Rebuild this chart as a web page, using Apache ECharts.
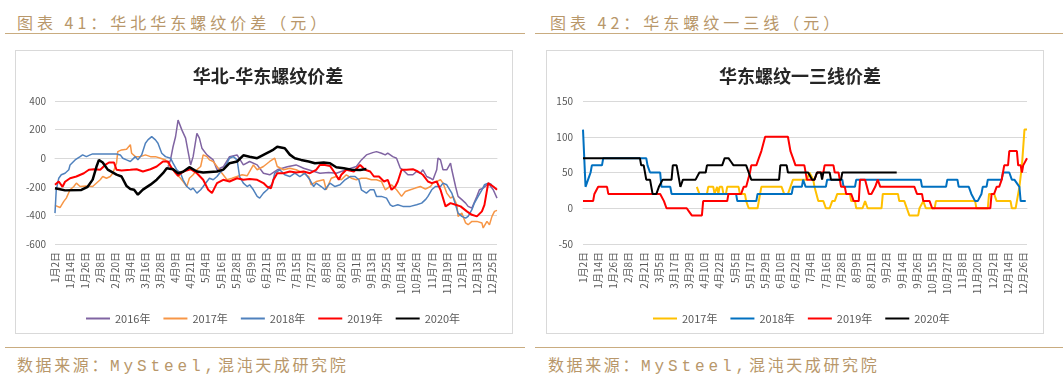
<!DOCTYPE html>
<html><head><meta charset="utf-8">
<script src="https://cdn.jsdelivr.net/npm/echarts@6/dist/echarts.min.js"></script>
<style>
html,body{margin:0;padding:0;background:#fff;}
#wrap{position:relative;width:1063px;height:379px;overflow:hidden;background:#fff;}
.txt{position:absolute;font-family:"Noto Sans CJK SC",sans-serif;font-size:16px;color:#b8976a;letter-spacing:4px;white-space:nowrap;line-height:20px;}
.foot{letter-spacing:2.6px;}
.lat{font-family:"Liberation Mono",monospace;letter-spacing:3.9px;}
.rule{position:absolute;height:0;border-top:1.5px solid #c9ac80;}
.box{position:absolute;border:1px solid #d9d9d9;box-sizing:border-box;}
.ch{position:absolute;top:0;height:379px;}
</style></head>
<body>
<div id="wrap">
  <div class="txt" style="left:17px;top:12px;">图表 41：华北华东螺纹价差（元）</div>
  <div class="txt" style="left:550px;top:12px;">图表 42：华东螺纹一三线（元）</div>
  <div class="rule" style="left:5px;width:520px;top:33px;"></div>
  <div class="rule" style="left:535px;width:528px;top:33px;"></div>
  <div class="box" style="left:15px;top:50px;width:498px;height:284px;"></div>
  <div class="box" style="left:546px;top:50px;width:498px;height:284px;"></div>
  <div class="rule" style="left:5px;width:520px;top:347px;"></div>
  <div class="rule" style="left:535px;width:528px;top:347px;"></div>
  <div class="txt foot" style="left:17px;top:354px;">数据来源：<span class="lat">MySteel,</span>混沌天成研究院</div>
  <div class="txt foot" style="left:548px;top:354px;">数据来源：<span class="lat">MySteel,</span>混沌天成研究院</div>
  <div id="c1" class="ch" style="left:0;width:531px;"></div>
  <div id="c2" class="ch" style="left:531px;width:532px;"></div>
</div>
<script>
// ---------- categories (trading-day dates) ----------
const MONTH_DAYS = [31,28,31,30,31,30,31,31,30,31,30,31];
function makeDays(skips, count) {
  const out = []; let m = 1, d = 2;
  while (out.length < count) {
    if (!skips.includes(m + '-' + d)) out.push(m + '月' + d + '日');
    d++; if (d > MONTH_DAYS[m - 1]) { d = 1; m++; }
  }
  return out;
}
const leftSkips  = ['2-3','5-1','10-1','10-2','10-3','10-4','10-5','10-6','10-7'];
const rightSkips = ['2-4','2-16','5-1','10-1','10-2','10-3','10-4','10-5','10-6','10-7'];
const leftCategories  = makeDays(leftSkips, 353);
const rightCategories = makeDays(rightSkips, 352);

// ---------- left chart: 华北-华东螺纹价差 ([day index, value]) ----------
const leftNames = ['2016年','2017年','2018年','2019年','2020年'];
const leftTicks = [-600, 400, 200];
const n2016 = [[90,-60],[92,-10],[94,80],[96,150],[98,267],[101,198],[104,140],[106,46],[108,-47],[110,11],[113,174],[115,140],[117,70],[121,23],[126,-12],[129,-81],[134,-60],[139,11],[145,23],[150,-47],[155,-23],[161,-47],[166,-105],[171,-116],[177,-81],[185,-60],[192,-47],[198,-70],[205,-90],[211,-105],[218,-100],[224,-105],[232,-81],[240,-58],[244,-12],[248,23],[253,39],[256,46],[260,35],[263,23],[265,35],[269,11],[272,0],[275,-70],[277,-81],[281,-116],[285,-116],[288,-93],[291,-105],[293,-81],[296,-128],[299,-140],[301,-151],[304,-81],[305,0],[307,-12],[309,-81],[312,-81],[315,-35],[316,-81],[319,-198],[321,-267],[324,-290],[327,-314],[329,-337],[332,-349],[336,-267],[338,-221],[341,-209],[344,-186],[346,-186],[349,-221],[352,-279]];
const n2017 = [[0,-330],[1,-326],[4,-345],[7,-302],[9,-279],[12,-221],[15,-198],[17,-174],[20,-198],[25,-195],[30,-198],[36,-151],[38,-128],[41,-140],[44,-128],[46,-105],[49,-35],[50,46],[53,58],[57,63],[60,95],[61,35],[64,11],[68,11],[72,23],[76,11],[80,11],[84,0],[88,-12],[92,-58],[96,-105],[100,-140],[102,-163],[105,-198],[107,-140],[110,-116],[113,-81],[116,-58],[118,23],[121,11],[123,-12],[126,-23],[129,-58],[133,-105],[137,-151],[141,-140],[145,-128],[149,-116],[153,-123],[158,-47],[161,-81],[166,-58],[171,-23],[175,0],[177,-58],[182,-81],[187,-70],[192,-81],[198,-105],[202,-128],[204,-186],[208,-163],[214,-151],[216,-221],[220,-140],[224,-128],[228,-151],[232,-116],[236,-140],[240,-151],[244,-140],[248,-140],[252,-151],[256,-151],[260,-163],[263,-221],[265,-209],[268,-186],[272,-221],[276,-267],[279,-233],[283,-221],[287,-209],[291,-198],[295,-216],[299,-198],[301,-174],[304,-163],[307,-151],[309,-174],[312,-244],[315,-279],[317,-267],[320,-326],[321,-407],[324,-384],[327,-453],[329,-465],[332,-442],[336,-442],[337,-430],[340,-453],[341,-488],[344,-442],[346,-465],[348,-407],[350,-372],[352,-365]];
const n2018 = [[0,-384],[1,-221],[3,-140],[5,-116],[8,-105],[11,-81],[12,-47],[16,-12],[20,11],[22,23],[25,11],[28,23],[30,30],[49,30],[52,23],[54,0],[57,-12],[60,-23],[64,11],[66,-12],[69,23],[72,105],[74,128],[77,151],[80,128],[82,105],[85,35],[88,11],[92,0],[94,-35],[97,-81],[100,-105],[102,-151],[105,-198],[108,-221],[110,-209],[113,-244],[116,-221],[118,-198],[121,-163],[123,-140],[126,-151],[129,-128],[131,-105],[134,-81],[137,-35],[139,0],[142,11],[145,-12],[147,-128],[150,-174],[153,-198],[155,-186],[158,-221],[161,-267],[163,-279],[166,-244],[169,-221],[171,-198],[173,-180],[175,-105],[179,-81],[183,-116],[187,-128],[191,-105],[195,-128],[199,-105],[203,-151],[206,-198],[208,-174],[212,-198],[215,-221],[219,-174],[223,-198],[227,-186],[231,-151],[235,-128],[239,-128],[242,-151],[244,-221],[248,-244],[251,-221],[254,-221],[256,-267],[260,-267],[264,-279],[267,-326],[269,-337],[273,-326],[277,-337],[283,-337],[288,-326],[292,-314],[295,-290],[297,-267],[300,-221],[303,-198],[307,-198],[309,-174],[312,-186],[316,-244],[319,-326],[321,-384],[324,-407],[327,-419],[329,-407],[332,-360],[334,-314],[337,-267],[340,-221],[342,-186],[345,-174],[348,-186]];
const n2019 = [[0,-185],[3,-163],[6,-200],[8,-165],[12,-140],[17,-128],[23,-105],[27,-81],[31,-77],[36,-81],[40,-47],[43,-30],[47,-30],[49,-81],[53,-86],[60,-81],[65,-77],[70,-93],[76,-77],[81,-58],[86,-23],[90,-23],[93,-70],[98,-123],[102,-93],[108,-77],[113,-105],[118,-151],[122,-221],[125,-244],[129,-174],[134,-151],[139,-163],[145,-140],[150,-151],[155,-146],[161,-151],[166,-174],[169,-200],[172,-210],[174,-150],[177,-105],[182,-105],[187,-93],[192,-100],[198,-93],[203,-105],[208,-81],[211,-47],[215,-47],[219,-54],[223,-105],[226,-151],[228,-116],[232,-81],[238,-93],[243,-47],[247,-81],[251,-93],[254,-128],[258,-128],[262,-163],[265,-151],[268,-221],[271,-198],[273,-163],[276,-81],[280,-81],[285,-77],[289,-93],[293,-116],[297,-163],[300,-174],[304,-163],[307,-221],[311,-337],[315,-314],[319,-326],[323,-337],[328,-372],[332,-396],[336,-407],[340,-372],[342,-326],[345,-174],[349,-198],[352,-221]];
const n2020 = [[0,-210],[3,-215],[8,-225],[21,-222],[26,-200],[30,-150],[33,-60],[35,-12],[38,-30],[42,-80],[49,-115],[53,-128],[57,-195],[60,-215],[63,-220],[66,-255],[70,-220],[76,-185],[81,-150],[86,-105],[89,-70],[94,-78],[98,-105],[102,-95],[107,-63],[113,-93],[118,-100],[129,-93],[134,-80],[139,-35],[145,-23],[150,20],[155,10],[161,0],[166,23],[171,46],[174,60],[177,80],[180,75],[183,70],[187,25],[191,0],[196,-12],[202,-23],[207,-35],[214,-30],[219,-35],[224,-63],[230,-70],[236,-80],[243,-82],[248,-75]];

// ---------- right chart: 华东螺纹一三线价差 ----------
const rightNames = ['2017年','2018年','2019年','2020年'];
const r2017 = [[90,30],[92,20],[98,20],[99,30],[103,30],[104,20],[106,30],[107,20],[108,30],[110,30],[111,20],[113,20],[114,30],[123,30],[124,20],[128,20],[129,10],[131,0],[138,0],[140,20],[141,30],[157,30],[159,20],[162,20],[164,30],[166,40],[177,40],[179,50],[182,40],[183,30],[186,10],[190,10],[192,0],[195,0],[197,10],[199,10],[201,20],[211,20],[212,10],[215,10],[216,0],[221,0],[223,10],[225,0],[236,0],[237,20],[249,20],[250,10],[254,10],[256,0],[258,-10],[265,-10],[266,0],[269,10],[271,0],[278,0],[279,10],[310,10],[311,0],[320,0],[321,20],[325,20],[327,10],[338,10],[339,0],[342,0],[343,10],[345,30],[347,60],[349,110],[351,110]];
const r2018 = [[0,110],[2,30],[4,40],[6,50],[7,60],[15,60],[16,70],[50,70],[51,60],[53,50],[61,50],[62,30],[69,30],[70,20],[121,20],[122,10],[137,10],[138,20],[165,20],[166,30],[173,30],[174,40],[176,30],[192,30],[193,40],[205,40],[206,30],[215,30],[216,40],[267,40],[268,30],[287,30],[288,40],[296,40],[297,30],[305,30],[307,20],[310,10],[312,10],[315,20],[316,30],[319,30],[320,40],[331,40],[332,50],[337,50],[339,40],[341,40],[345,30],[346,10],[350,10]];
const r2019 = [[0,10],[8,10],[9,20],[12,30],[19,30],[20,20],[61,20],[64,10],[66,0],[82,0],[84,-5],[86,-10],[94,-10],[95,10],[114,10],[115,20],[125,20],[127,30],[129,30],[132,50],[133,60],[137,60],[139,70],[141,80],[144,100],[162,100],[164,80],[166,70],[168,60],[175,60],[177,40],[183,40],[185,50],[190,50],[191,60],[198,60],[199,50],[202,50],[203,40],[204,30],[207,30],[208,20],[212,20],[214,10],[218,10],[219,40],[223,40],[226,20],[228,20],[231,30],[233,40],[235,30],[262,30],[264,20],[268,20],[269,10],[274,10],[276,0],[322,0],[323,20],[325,20],[327,30],[329,30],[331,40],[332,50],[333,60],[336,60],[337,80],[343,80],[344,60],[346,60],[347,50],[348,60],[351,70]];
const r2020 = [[0,70],[45,70],[46,60],[48,60],[50,40],[53,40],[55,20],[58,20],[60,30],[63,40],[70,40],[71,60],[74,60],[75,50],[77,30],[79,40],[89,40],[92,50],[97,50],[98,60],[110,60],[112,70],[115,70],[117,65],[119,60],[129,60],[131,50],[133,40],[155,40],[156,60],[161,60],[162,50],[178,50],[181,40],[183,40],[185,50],[188,50],[189,40],[190,50],[195,50],[196,40],[204,40],[205,50],[248,50]];

const FONT = '"Noto Sans CJK SC", sans-serif';
const LABEL = '#595959';

function baseOption(cfg) {
  return {
    animation: false,
    title: {
      text: cfg.title, left: cfg.titleX, top: 62, textAlign: 'center',
      textStyle: { fontFamily: FONT, fontSize: 18, fontWeight: 'bold', color: '#262626' }
    },
    legend: {
      left: cfg.legendX, top: 308, itemWidth: 24, itemHeight: 2, itemGap: 13, icon: 'rect',
      textStyle: { fontFamily: FONT, fontSize: 11, color: LABEL },
      data: cfg.names
    },
    grid: { left: cfg.gridLeft, width: cfg.gridWidth, top: 101, height: 143 },
    xAxis: {
      type: 'category', data: cfg.categories, boundaryGap: false,
      axisLine: { lineStyle: { color: '#d9d9d9' } },
      axisTick: { show: false },
      axisLabel: { interval: 11, rotate: 90, margin: 8, fontFamily: FONT, fontSize: 10, color: LABEL }
    },
    yAxis: {
      type: 'value', min: cfg.yMin, max: cfg.yMax, interval: cfg.yStep,
      axisLine: { show: false }, axisTick: { show: false },
      axisLabel: { fontFamily: FONT, fontSize: 10, color: LABEL, margin: cfg.yMargin },
      splitLine: { lineStyle: { color: '#d9d9d9', width: 1 } }
    },
    series: cfg.series.map(s => ({
      name: s.name, type: 'line', data: s.data, symbol: 'none', showSymbol: false,
      lineStyle: { color: s.color, width: s.width }, itemStyle: { color: s.color }
    }))
  };
}

const c1 = echarts.init(document.getElementById('c1'));
c1.setOption(baseOption({
  title: '华北-华东螺纹价差', titleX: 263, legendX: 81, names: leftNames,
  gridLeft: 55, gridWidth: 442, categories: leftCategories,
  yMin: leftTicks[0], yMax: leftTicks[1], yStep: leftTicks[2], yMargin: 9,
  series: [
    { name: leftNames[0], data: n2016, color: '#8064a2', width: 1.5 },
    { name: leftNames[1], data: n2017, color: '#f79646', width: 1.5 },
    { name: leftNames[2], data: n2018, color: '#4f81bd', width: 1.5 },
    { name: leftNames[3], data: n2019, color: '#ff0000', width: 2 },
    { name: leftNames[4], data: n2020, color: '#000000', width: 2.5 }
  ]
}));

const c2 = echarts.init(document.getElementById('c2'));
c2.setOption(baseOption({
  title: '华东螺纹一三线价差', titleX: 264, legendX: 117, names: rightNames,
  gridLeft: 52, gridWidth: 444, categories: rightCategories,
  yMin: -50, yMax: 150, yStep: 50, yMargin: 10,
  series: [
    { name: rightNames[0], data: r2017, color: '#ffc000', width: 2 },
    { name: rightNames[1], data: r2018, color: '#0070c0', width: 2 },
    { name: rightNames[2], data: r2019, color: '#ff0000', width: 2 },
    { name: rightNames[3], data: r2020, color: '#000000', width: 2 }
  ]
}));
</script>
</body></html>
